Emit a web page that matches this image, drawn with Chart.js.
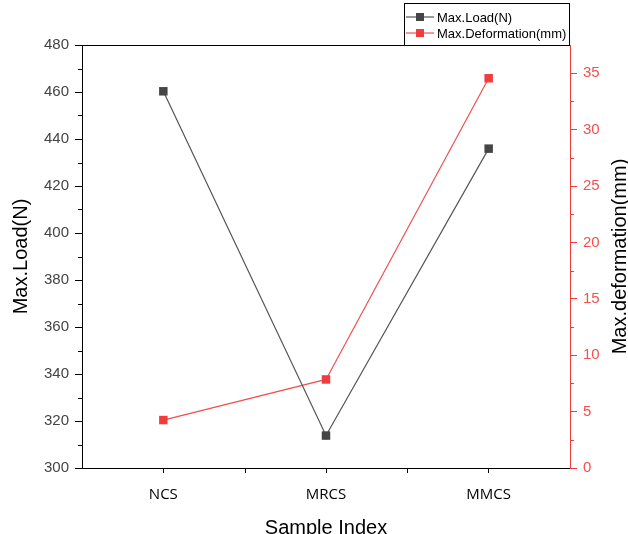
<!DOCTYPE html>
<html lang="en">

<head>
    <meta charset="UTF-8">
    <title>Max Load and Deformation by Sample</title>
    <script src="https://cdn.jsdelivr.net/npm/chart.js"></script>
    <style>
        body {
            margin: 0;
            background: #fff;
        }

        .wrap {
            width: 628px;
            height: 534px;
            position: relative;
        }
    </style>
</head>

<body>
    <div class="wrap"><canvas id="chart"></canvas></div>

    <script>
        const samples = ["NCS", "MRCS", "MMCS"];
        const maxLoad = [460.3, 313.8, 435.9];          // N
        const maxDeformation = [4.25, 7.85, 34.55];     // mm
        const loadTicks = { min: 300, max: 480, step: 20 };
        const deformTicks = { min: 0, max: 37.5, step: 5 };

        const SANS = 'Arial, "Liberation Sans", sans-serif';
        const RED = "#f03c3c";

        // minor ticks, top frame line, legend box and right-hand title
        const extras = {
            id: "extras",
            afterDraw(chart) {
                const ctx = chart.ctx;
                const area = chart.chartArea;
                const { x, y, y1 } = chart.scales;
                ctx.save();
                ctx.lineWidth = 1;

                // top frame
                ctx.strokeStyle = "#000";
                ctx.beginPath();
                ctx.moveTo(area.left, area.top + 0.5);
                ctx.lineTo(area.right, area.top + 0.5);
                ctx.stroke();

                // minor ticks, left axis
                ctx.beginPath();
                for (let v = loadTicks.min + loadTicks.step / 2; v < loadTicks.max; v += loadTicks.step) {
                    const py = Math.round(y.getPixelForValue(v)) + 0.5;
                    ctx.moveTo(area.left - 4, py);
                    ctx.lineTo(area.left, py);
                }
                // ticks between categories
                for (let i = 0; i < samples.length - 1; i++) {
                    const px = Math.round((x.getPixelForValue(i) + x.getPixelForValue(i + 1)) / 2) + 0.5;
                    ctx.moveTo(px, area.bottom);
                    ctx.lineTo(px, area.bottom + 5);
                }
                ctx.stroke();

                // minor ticks, right axis
                ctx.strokeStyle = RED;
                ctx.beginPath();
                for (let v = deformTicks.min + deformTicks.step / 2; v < deformTicks.max; v += deformTicks.step) {
                    const py = Math.round(y1.getPixelForValue(v)) + 0.5;
                    ctx.moveTo(area.right, py);
                    ctx.lineTo(area.right + 4, py);
                }
                ctx.stroke();

                // legend
                const bx = 404, by = 3, bw = 165, bh = 42;
                ctx.strokeStyle = "#000";
                ctx.strokeRect(bx + 0.5, by + 0.5, bw, bh);
                ctx.font = "13px " + SANS;
                ctx.textBaseline = "middle";
                chart.data.datasets.forEach((ds, i) => {
                    const ly = by + 14 + i * 16;
                    ctx.strokeStyle = ds.borderColor;
                    ctx.lineWidth = 1.2;
                    ctx.beginPath();
                    ctx.moveTo(bx + 2, ly);
                    ctx.lineTo(bx + 30, ly);
                    ctx.stroke();
                    ctx.fillStyle = ds.pointBackgroundColor;
                    ctx.fillRect(bx + 12, ly - 4, 8, 8);
                    ctx.fillStyle = "#000";
                    ctx.fillText(ds.label, bx + 33, ly + 1);
                });

                // right axis title, reading bottom to top
                ctx.translate(620, (area.top + area.bottom) / 2);
                ctx.rotate(-Math.PI / 2);
                ctx.font = "20px " + SANS;
                ctx.textAlign = "center";
                ctx.textBaseline = "middle";
                ctx.fillStyle = "#000";
                ctx.fillText("Max.deformation(mm)", 0, 0);
                ctx.restore();
            }
        };

        new Chart(document.getElementById("chart"), {
            type: "line",
            data: {
                labels: samples,
                datasets: [
                    {
                        label: "Max.Load(N)",
                        data: maxLoad,
                        yAxisID: "y",
                        borderColor: "#555",
                        borderWidth: 1.2,
                        pointStyle: "rect",
                        pointRadius: 6,
                        pointBorderWidth: 0,
                        pointBackgroundColor: "#454545",
                        tension: 0
                    },
                    {
                        label: "Max.Deformation(mm)",
                        data: maxDeformation,
                        yAxisID: "y1",
                        borderColor: "#f05050",
                        borderWidth: 1.2,
                        pointStyle: "rect",
                        pointRadius: 6,
                        pointBorderWidth: 0,
                        pointBackgroundColor: RED,
                        tension: 0
                    }
                ]
            },
            options: {
                responsive: true,
                maintainAspectRatio: false,
                animation: false,
                layout: { padding: { top: 45, left: 0, right: 0, bottom: 0 } },
                plugins: {
                    legend: { display: false },
                    tooltip: { enabled: false }
                },
                scales: {
                    x: {
                        offset: true,
                        grid: { drawOnChartArea: false, tickLength: 5, tickColor: "#000" },
                        border: { color: "#000" },
                        ticks: { font: { family: '"Open Sans", sans-serif', size: 15 }, color: "#000", padding: 13 },
                        title: {
                            display: true,
                            text: "Sample Index",
                            color: "#000",
                            font: { family: SANS, size: 20, lineHeight: 1 },
                            padding: { top: 0, bottom: -4 }
                        },
                        afterFit: (s) => { s.height = 66; }
                    },
                    y: {
                        position: "left",
                        min: loadTicks.min,
                        max: loadTicks.max,
                        grid: { drawOnChartArea: false, tickLength: 7, tickColor: "#000" },
                        border: { color: "#000" },
                        ticks: { stepSize: loadTicks.step, color: "#444", font: { family: SANS, size: 15 }, padding: 6 },
                        title: {
                            display: true,
                            text: "Max.Load(N)",
                            color: "#000",
                            font: { family: SANS, size: 20 },
                            padding: { top: 9, bottom: 4 }
                        },
                        afterFit: (s) => { s.width = 82; }
                    },
                    y1: {
                        position: "right",
                        min: deformTicks.min,
                        max: deformTicks.max,
                        grid: { drawOnChartArea: false, tickLength: 7, tickColor: RED },
                        border: { color: RED },
                        ticks: {
                            stepSize: deformTicks.step,
                            includeBounds: false,
                            color: "#f25050",
                            font: { family: SANS, size: 15 },
                            padding: 6
                        },
                        afterFit: (s) => { s.width = 58; }
                    }
                }
            },
            plugins: [extras]
        });
    </script>
</body>

</html>
